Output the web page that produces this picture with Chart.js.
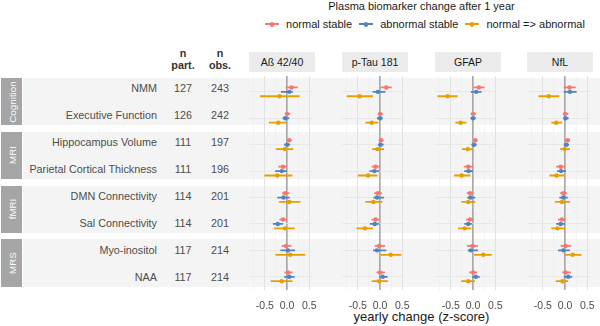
<!DOCTYPE html>
<html>
<head>
<meta charset="utf-8">
<title>Plasma biomarker change after 1 year</title>
<script src="https://cdn.jsdelivr.net/npm/chart.js@4.4.0/dist/chart.umd.js"></script>
<style>
  body { margin: 0; width: 600px; height: 326px; position: relative; overflow: hidden; background: #fff;
         font-family: "Liberation Sans", Arial, sans-serif; }
  .abs { position: absolute; white-space: nowrap; }
  .band { position: absolute; left: 23px; width: 577px; background: #f4f4f4; }
  .gstrip { position: absolute; left: 1px; width: 21px; background: #a5a5a5; }
  .gstrip span { position: absolute; left: 50%; top: 50%; transform: translate(-50%, -50%) rotate(-90deg);
                 color: #fafafa; font-size: 9.8px; white-space: nowrap; }
  .lab { font-size: 10.8px; color: #4d4d4d; transform: translateY(-50%); }
  .num { font-size: 10.8px; color: #4d4d4d; width: 40px; text-align: center; transform: translateY(-50%); }
  .head { font-size: 10.8px; font-weight: bold; color: #333; width: 40px; text-align: center; line-height: 12px; }
  .strip { background: #ebebeb; height: 20px; line-height: 20px; text-align: center; font-size: 10.5px; color: #1a1a1a; }
  canvas { position: absolute; }
  #legend { position: absolute; top: 17px; left: 0; width: 843px; display: flex; justify-content: center;
            align-items: center; font-size: 11px; color: #1a1a1a; height: 14px; }
  .key { display: inline-block; position: relative; width: 14px; height: 2px; margin: 0 7px; }
  .key i { position: absolute; left: 5px; top: -1.5px; width: 4px; height: 5px; border-radius: 2px; }
</style>
</head>
<body>
<div class="abs" style="left:0;width:843px;top:0;text-align:center;font-size:11px;color:#1a1a1a">Plasma biomarker change after 1 year</div>
<div id="legend"></div>
<div class="abs" style="left:0;width:843px;top:309px;text-align:center;font-size:13px;color:#1a1a1a">yearly change (z-score)</div>

<script>
  const biomarkers = ['Aß 42/40', 'p-Tau 181', 'GFAP', 'NfL'];
  const groups = ['Cognition', 'MRI', 'fMRI', 'MRS'];
  const outcomes = ['NMM', 'Executive Function', 'Hippocampus Volume', 'Parietal Cortical Thickness',
                    'DMN Connectivity', 'Sal Connectivity', 'Myo-inositol', 'NAA'];
  const nPart = [127, 126, 111, 111, 114, 114, 117, 117];
  const nObs = [243, 242, 197, 196, 201, 201, 214, 214];
  const seriesNames = ['normal stable', 'abnormal stable', 'normal => abnormal'];
  const seriesColors = ['#F8766D', '#4E84C4', '#E69F00'];
  const xTickLabels = [-0.5, 0, 0.5];

  // [estimate, lower, upper] per outcome
  const abeta_normalStable   = [[0.10,-0.03,0.24],[0.00,-0.05,0.07],[0.05,-0.01,0.10],[-0.09,-0.20,0.00],[-0.04,-0.11,0.05],[-0.09,-0.17,0.00],[-0.02,-0.12,0.10],[0.02,-0.06,0.12]];
  const abeta_abnormalStable = [[0.05,-0.14,0.13],[-0.04,-0.10,0.05],[0.00,-0.07,0.07],[-0.12,-0.27,0.00],[-0.08,-0.22,0.06],[-0.21,-0.32,-0.09],[0.02,-0.15,0.18],[0.05,-0.07,0.17]];
  const abeta_converter      = [[-0.17,-0.61,0.28],[-0.20,-0.41,-0.02],[-0.05,-0.25,0.14],[-0.22,-0.51,0.12],[0.05,-0.18,0.30],[-0.05,-0.29,0.17],[0.07,-0.26,0.41],[-0.12,-0.37,0.12]];

  const ptau_normalStable    = [[0.14,0.02,0.26],[0.00,-0.05,0.06],[0.02,-0.03,0.08],[-0.10,-0.19,0.00],[-0.05,-0.13,0.04],[-0.10,-0.19,-0.02],[-0.02,-0.12,0.11],[0.00,-0.08,0.11]];
  const ptau_abnormalStable  = [[-0.05,-0.17,0.12],[0.00,-0.07,0.06],[0.01,-0.05,0.08],[-0.13,-0.24,-0.02],[-0.07,-0.15,0.09],[-0.12,-0.23,-0.02],[-0.07,-0.16,0.14],[0.06,-0.02,0.17]];
  const ptau_converter       = [[-0.46,-0.75,-0.16],[-0.19,-0.33,-0.04],[-0.06,-0.18,0.09],[-0.27,-0.50,-0.06],[-0.15,-0.33,0.05],[-0.34,-0.53,-0.16],[0.24,0.01,0.48],[-0.02,-0.19,0.18]];

  const gfap_normalStable    = [[0.13,0.01,0.26],[0.00,-0.05,0.06],[0.05,0.00,0.10],[-0.11,-0.21,0.00],[-0.07,-0.14,0.01],[-0.07,-0.16,0.01],[-0.01,-0.14,0.11],[0.00,-0.09,0.09]];
  const gfap_abnormalStable  = [[0.07,-0.05,0.19],[0.00,-0.06,0.06],[0.02,-0.04,0.08],[-0.10,-0.20,0.00],[-0.06,-0.13,0.05],[-0.11,-0.20,-0.02],[-0.05,-0.12,0.11],[0.06,-0.02,0.15]];
  const gfap_converter       = [[-0.57,-0.80,-0.35],[-0.28,-0.40,-0.15],[-0.12,-0.25,0.00],[-0.26,-0.43,-0.06],[-0.11,-0.26,0.05],[-0.19,-0.34,-0.04],[0.23,0.02,0.42],[-0.11,-0.27,0.04]];

  const nfl_normalStable     = [[0.10,-0.03,0.24],[0.00,-0.04,0.07],[0.06,0.00,0.11],[-0.10,-0.20,0.00],[-0.04,-0.11,0.04],[-0.07,-0.16,0.01],[0.01,-0.10,0.14],[0.01,-0.06,0.13]];
  const nfl_abnormalStable   = [[0.11,-0.03,0.26],[0.01,-0.04,0.08],[0.03,-0.03,0.09],[-0.09,-0.18,0.02],[-0.04,-0.13,0.06],[-0.10,-0.20,0.00],[-0.04,-0.16,0.11],[0.07,-0.03,0.16]];
  const nfl_converter        = [[-0.37,-0.60,-0.13],[-0.20,-0.31,-0.07],[-0.01,-0.11,0.11],[-0.19,-0.35,-0.01],[-0.07,-0.23,0.11],[-0.17,-0.31,0.00],[0.17,-0.01,0.37],[-0.06,-0.21,0.07]];

  const panelData = [
    [abeta_normalStable, abeta_abnormalStable, abeta_converter],
    [ptau_normalStable, ptau_abnormalStable, ptau_converter],
    [gfap_normalStable, gfap_abnormalStable, gfap_converter],
    [nfl_normalStable, nfl_abnormalStable, nfl_converter]
  ];

  // layout
  const plotTop = 72, plotH = 218, axisH = 26, padX = 12, panelW = 66;
  const panelLefts = [249, 342, 435, 527];
  const xMin = -0.857, xMax = 0.547, yMin = -0.6, yMax = 7.5;
  const dodge = [-0.167, 0, 0.167];
  const rowY = v => plotTop + (v - yMin) / (yMax - yMin) * plotH;

  function add(cls, style, html) {
    const d = document.createElement('div');
    d.className = cls;
    Object.assign(d.style, style);
    d.innerHTML = html;
    document.body.appendChild(d);
    return d;
  }

  // group bands + strips
  groups.forEach((g, k) => {
    const top = rowY(2 * k - 0.38), bot = rowY(2 * k + 1 + 0.38);
    add('band', { top: top + 'px', height: (bot - top) + 'px' }, '');
    add('gstrip', { top: top + 'px', height: (bot - top) + 'px' }, '<span>' + g + '</span>');
  });

  // table
  add('abs head', { left: '163px', top: '47px' }, 'n<br>part.');
  add('abs head', { left: '200px', top: '47px' }, 'n<br>obs.');
  outcomes.forEach((o, i) => {
    const y = rowY(i) + 'px';
    add('abs lab', { right: '443px', top: y }, o);
    add('abs num', { left: '163px', top: y }, nPart[i]);
    add('abs num', { left: '200px', top: y }, nObs[i]);
  });

  // legend
  const legend = document.getElementById('legend');
  seriesNames.forEach((n, s) => {
    legend.insertAdjacentHTML('beforeend',
      '<span class="key" style="background:' + seriesColors[s] + '"><i style="background:' + seriesColors[s] + '"></i></span>' +
      '<span>' + n.replace('>', '&gt;') + '</span>');
  });

  const family = '"Liberation Sans", Arial, sans-serif';

  biomarkers.forEach((b, k) => {
    add('abs strip', { left: panelLefts[k] + 'px', top: '52px', width: panelW + 'px' }, b);

    const canvas = document.createElement('canvas');
    canvas.width = panelW + 2 * padX;
    canvas.height = plotH + axisH;
    canvas.style.left = (panelLefts[k] - padX) + 'px';
    canvas.style.top = plotTop + 'px';
    document.body.appendChild(canvas);

    const datasets = [];
    seriesNames.forEach((name, s) => {
      const rows = panelData[k][s];
      const seg = [];
      rows.forEach((r, i) => {
        const y = i + dodge[s];
        seg.push({ x: r[1], y: y }, { x: r[2], y: y }, { x: null, y: null });
      });
      datasets.push({
        type: 'line', label: name, data: seg, borderColor: seriesColors[s], borderWidth: 1.8,
        pointRadius: 0, spanGaps: false, fill: false, borderCapStyle: 'butt'
      });
      datasets.push({
        type: 'scatter', label: name, data: rows.map((r, i) => ({ x: r[0], y: i + dodge[s] })),
        backgroundColor: seriesColors[s], borderColor: seriesColors[s], pointRadius: 2.2, borderWidth: 0
      });
    });

    new Chart(canvas.getContext('2d'), {
      type: 'scatter',
      data: { datasets },
      options: {
        responsive: false,
        animation: false,
        events: [],
        layout: { padding: { left: padX, right: padX, top: 0, bottom: 0 } },
        plugins: { legend: { display: false }, tooltip: { enabled: false } },
        scales: {
          x: {
            type: 'linear', min: xMin, max: xMax,
            border: { display: false },
            grid: {
              drawTicks: false,
              color: c => c.tick && c.tick.value === 0 ? '#a9a9a9' : (xTickLabels.includes(c.tick && c.tick.value) ? '#e0e0e0' : '#ececec'),
              lineWidth: c => c.tick && c.tick.value === 0 ? 1.7 : (xTickLabels.includes(c.tick && c.tick.value) ? 0.9 : 0.6)
            },
            ticks: {
              stepSize: 0.25, includeBounds: false, autoSkip: false, maxRotation: 0, padding: 10,
              color: '#4d4d4d', font: { size: 10.5, family },
              callback: v => xTickLabels.includes(v) ? v.toFixed(1) : ''
            },
            afterFit: s => { s.height = axisH; }
          },
          y: {
            type: 'linear', reverse: true, min: yMin, max: yMax,
            border: { display: false },
            grid: { drawTicks: false, color: '#e4e4e4', lineWidth: 0.8 },
            ticks: { display: false, stepSize: 1, includeBounds: false },
            afterFit: s => { s.width = 0; }
          }
        }
      }
    });
  });
</script>
</body>
</html>
